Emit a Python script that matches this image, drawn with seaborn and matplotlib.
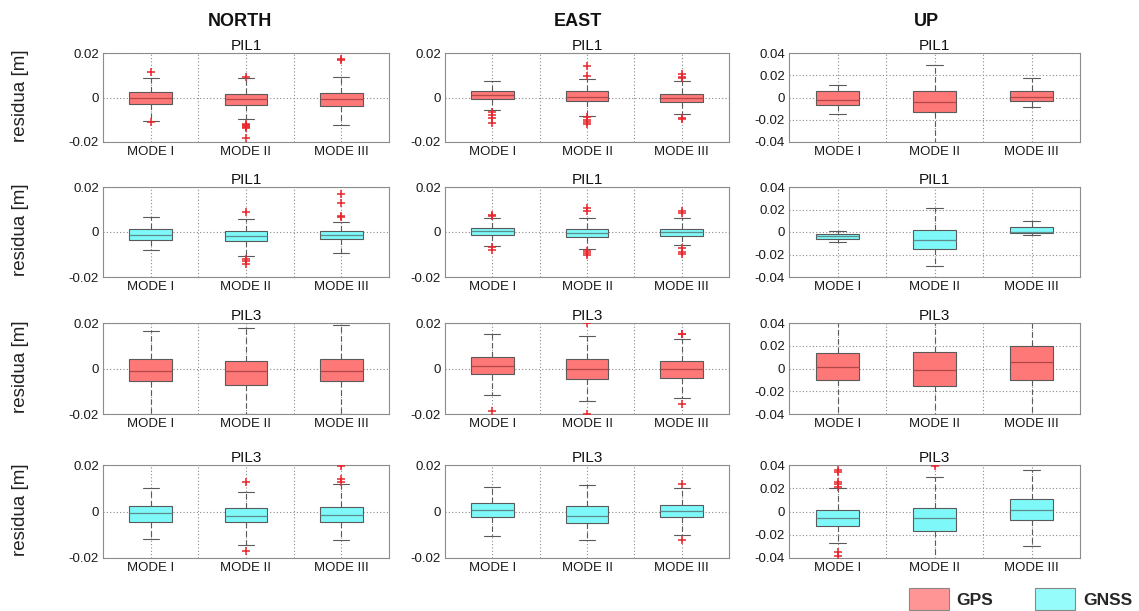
import numpy as np
import pandas as pd
import matplotlib
matplotlib.use("Agg")
import matplotlib.pyplot as plt
import seaborn as sns
from matplotlib.patches import Patch

# ---------------- data ----------------
modes = ["MODE I", "MODE II", "MODE III"]
components = ["NORTH", "EAST", "UP"]
station_rows = ["PIL1", "PIL1", "PIL3", "PIL3"]
system_rows = ["GPS", "GNSS", "GPS", "GNSS"]

# each box: [lower whisker, Q1, median, Q3, upper whisker] in metres
north_pil1_gps = [[-0.0106, -0.0027, -0.0002, 0.0026, 0.0089],
                  [-0.0098, -0.0035, -0.0008, 0.0014, 0.0087],
                  [-0.0122, -0.0038, -0.0008, 0.0018, 0.0094]]
north_pil1_gps_out = [[0.0116, -0.0111],
                      [0.0090, -0.0118, -0.0122, -0.0127, -0.0131, -0.0136, -0.0181],
                      [0.0168, 0.0175]]
east_pil1_gps = [[-0.0058, -0.0007, 0.0012, 0.0031, 0.0076],
                 [-0.0082, -0.0015, 0.0002, 0.0027, 0.0085],
                 [-0.0075, -0.0021, -0.0004, 0.0015, 0.0072]]
east_pil1_gps_out = [[-0.0063, -0.0080, -0.0091, -0.0113],
                     [0.0142, 0.0097, -0.0088, -0.0099, -0.0110, -0.0121],
                     [0.0104, 0.0094, 0.0086, -0.0091, -0.0097]]
up_pil1_gps = [[-0.0147, -0.0069, -0.0018, 0.0054, 0.0114],
               [-0.0450, -0.0132, -0.0036, 0.0054, 0.0288],
               [-0.0087, -0.0030, 0.0006, 0.0054, 0.0177]]
up_pil1_gps_out = [[], [], []]

north_pil1_gnss = [[-0.0079, -0.0035, -0.0012, 0.0012, 0.0068],
                   [-0.0106, -0.0040, -0.0018, 0.0003, 0.0057],
                   [-0.0094, -0.0032, -0.0013, 0.0006, 0.0046]]
north_pil1_gnss_out = [[],
                       [0.0087, -0.0118, -0.0131, -0.0143],
                       [0.0171, 0.0129, 0.0071, 0.0065]]
east_pil1_gnss = [[-0.0060, -0.0014, 0.0005, 0.0020, 0.0063],
                  [-0.0075, -0.0024, -0.0005, 0.0014, 0.0063],
                  [-0.0059, -0.0017, 0.0000, 0.0014, 0.0063]]
east_pil1_gnss_out = [[0.0077, 0.0072, -0.0067, -0.0079],
                      [0.0106, 0.0093, -0.0085, -0.0093, -0.0102],
                      [0.0093, 0.0083, -0.0073, -0.0088, -0.0099]]
up_pil1_gnss = [[-0.0090, -0.0066, -0.0036, -0.0015, 0.0009],
                [-0.0306, -0.0147, -0.0069, 0.0015, 0.0213],
                [-0.0024, -0.0006, 0.0000, 0.0048, 0.0099]]
up_pil1_gnss_out = [[], [], []]

north_pil3_gps = [[-0.0215, -0.0057, -0.0013, 0.0041, 0.0163],
                  [-0.0200, -0.0072, -0.0009, 0.0034, 0.0176],
                  [-0.0200, -0.0057, -0.0009, 0.0043, 0.0193]]
north_pil3_gps_out = [[], [], []]
east_pil3_gps = [[-0.0118, -0.0025, 0.0012, 0.0052, 0.0153],
                 [-0.0144, -0.0048, -0.0003, 0.0042, 0.0141],
                 [-0.0130, -0.0042, -0.0003, 0.0031, 0.0129]]
east_pil3_gps_out = [[-0.0187],
                     [0.0199, -0.0198],
                     [0.0153, 0.0150, -0.0157]]
up_pil3_gps = [[-0.0600, -0.0099, 0.0015, 0.0135, 0.0600],
               [-0.0600, -0.0150, -0.0012, 0.0141, 0.0600],
               [-0.0600, -0.0099, 0.0054, 0.0198, 0.0600]]
up_pil3_gps_out = [[], [], []]

north_pil3_gnss = [[-0.0118, -0.0047, -0.0008, 0.0022, 0.0100],
                   [-0.0144, -0.0047, -0.0021, 0.0013, 0.0082],
                   [-0.0123, -0.0047, -0.0014, 0.0018, 0.0118]]
north_pil3_gnss_out = [[],
                       [0.0125, -0.0171],
                       [0.0194, 0.0138, 0.0128]]
east_pil3_gnss = [[-0.0106, -0.0024, 0.0007, 0.0037, 0.0106],
                  [-0.0124, -0.0049, -0.0019, 0.0023, 0.0115],
                  [-0.0099, -0.0023, 0.0003, 0.0026, 0.0102]]
east_pil3_gnss_out = [[], [], [0.0118, -0.0121]]
up_pil3_gnss = [[-0.0267, -0.0124, -0.0053, 0.0012, 0.0199],
                [-0.0450, -0.0169, -0.0059, 0.0027, 0.0293],
                [-0.0296, -0.0074, 0.0009, 0.0104, 0.0361]]
up_pil3_gnss_out = [[0.0361, 0.0341, 0.0258, 0.0237, 0.0213, -0.0350, -0.0379],
                    [0.0395],
                    []]

panel_boxes = [[north_pil1_gps, east_pil1_gps, up_pil1_gps],
               [north_pil1_gnss, east_pil1_gnss, up_pil1_gnss],
               [north_pil3_gps, east_pil3_gps, up_pil3_gps],
               [north_pil3_gnss, east_pil3_gnss, up_pil3_gnss]]
panel_outliers = [[north_pil1_gps_out, east_pil1_gps_out, up_pil1_gps_out],
                  [north_pil1_gnss_out, east_pil1_gnss_out, up_pil1_gnss_out],
                  [north_pil3_gps_out, east_pil3_gps_out, up_pil3_gps_out],
                  [north_pil3_gnss_out, east_pil3_gnss_out, up_pil3_gnss_out]]

ne_ticks = [-0.02, 0, 0.02]
ne_labels = ["-0.02", "0", "0.02"]
up_ticks = [-0.04, -0.02, 0, 0.02, 0.04]
up_labels = ["-0.04", "-0.02", "0", "0.02", "0.04"]

# ---------------- styling ----------------
sns.set_theme(style="white")
plt.rcParams["font.family"] = ["Liberation Sans", "DejaVu Sans"]
plt.rcParams["axes.unicode_minus"] = False

fill_colors = {"GPS": "#FF7878", "GNSS": "#7EF8F8"}
median_colors = {"GPS": "#B04848", "GNSS": "#5E8C8C"}
legend_colors = {"GPS": "#FF9595", "GNSS": "#95FBFB"}
line_gray = "#5A5A5A"

W, H = 1139, 611
fig = plt.figure(figsize=(W / 100, H / 100), dpi=100)

col_left = [103, 445, 789]
col_right = [389, 729, 1080]
row_top = [53, 187, 323, 465]
row_bottom = [142, 277, 414, 558]

for r in range(4):
    system = system_rows[r]
    for c in range(3):
        l, rr = col_left[c], col_right[c]
        t, b = row_top[r], row_bottom[r]
        ax = fig.add_axes([l / W, 1 - b / H, (rr - l) / W, (b - t) / H])

        boxes = panel_boxes[r][c]
        df = pd.DataFrame({
            "mode": [m for m, stats in zip(modes, boxes) for _ in stats],
            "value": [v for stats in boxes for v in stats],
        })
        sns.boxplot(data=df, x="mode", y="value", order=modes, ax=ax,
                    whis=(0, 100), width=0.45, color=fill_colors[system],
                    saturation=1, linecolor=line_gray, linewidth=0.8,
                    showfliers=False,
                    whiskerprops=dict(linestyle=(0, (5, 3)), color=line_gray, linewidth=0.8),
                    capprops=dict(color=line_gray, linewidth=0.8),
                    medianprops=dict(color=median_colors[system], linewidth=0.9),
                    boxprops=dict(edgecolor=line_gray, linewidth=0.8),
                    capwidths=0.17)

        outs = panel_outliers[r][c]
        odf = pd.DataFrame({
            "mode": [m for m, vals in zip(modes, outs) for _ in vals],
            "value": [v for vals in outs for v in vals],
        })
        if len(odf):
            sns.stripplot(data=odf, x="mode", y="value", order=modes, ax=ax,
                          jitter=False, marker="+", color="#E8262C", size=6,
                          linewidth=1.1)

        if c == 2:
            ax.set_ylim(-0.04, 0.04)
            ax.set_yticks(up_ticks)
            ax.set_yticklabels(up_labels)
        else:
            ax.set_ylim(-0.02, 0.02)
            ax.set_yticks(ne_ticks)
            ax.set_yticklabels(ne_labels)
        ax.set_xlim(-0.5, 2.5)
        ax.set_xticks([0, 1, 2])
        ax.set_xticklabels(modes)
        ax.set_xticks([0.5, 1.5], minor=True)
        ax.set_xlabel("")
        ax.set_ylabel("")
        ax.set_axisbelow(True)
        ax.grid(True, axis="y", which="major", linestyle=(0, (1, 2)), color="#8A8A8A", linewidth=0.8)
        ax.grid(True, axis="x", which="both", linestyle=(0, (1, 2)), color="#8A8A8A", linewidth=0.8)
        ax.tick_params(axis="both", which="both", labelsize=9.5, length=0, pad=3, colors="#1A1A1A")
        for s in ax.spines.values():
            s.set_color("#8C8C8C")
            s.set_linewidth(0.8)
        ax.set_title(station_rows[r], fontsize=11, pad=2, color="#111111")

    # row label
    yc = 1 - ((row_top[r] + row_bottom[r]) / 2 - 2) / H
    fig.text(21 / W, yc, "residua [m]", rotation=90, ha="center", va="center",
             fontsize=13.5, color="#222222")

# column headers
for cx, name in zip([240, 578, 926], components):
    fig.text(cx / W, 1 - 21 / H, name, ha="center", va="center",
             fontsize=13, fontweight="bold", color="#111111")

handles = [Patch(facecolor=legend_colors["GPS"], edgecolor="#888888", linewidth=0.8, label="GPS"),
           Patch(facecolor=legend_colors["GNSS"], edgecolor="#888888", linewidth=0.8, label="GNSS")]
fig.legend(handles=handles, loc="upper left", bbox_to_anchor=(909 / W, 1 - 588 / H),
           ncol=2, frameon=False, handlelength=2.3, handleheight=1.6, handletextpad=0.45,
           columnspacing=2.4, prop=dict(weight="bold", size=12.5), borderaxespad=0, borderpad=0)

fig.savefig("out.png", dpi=100)
